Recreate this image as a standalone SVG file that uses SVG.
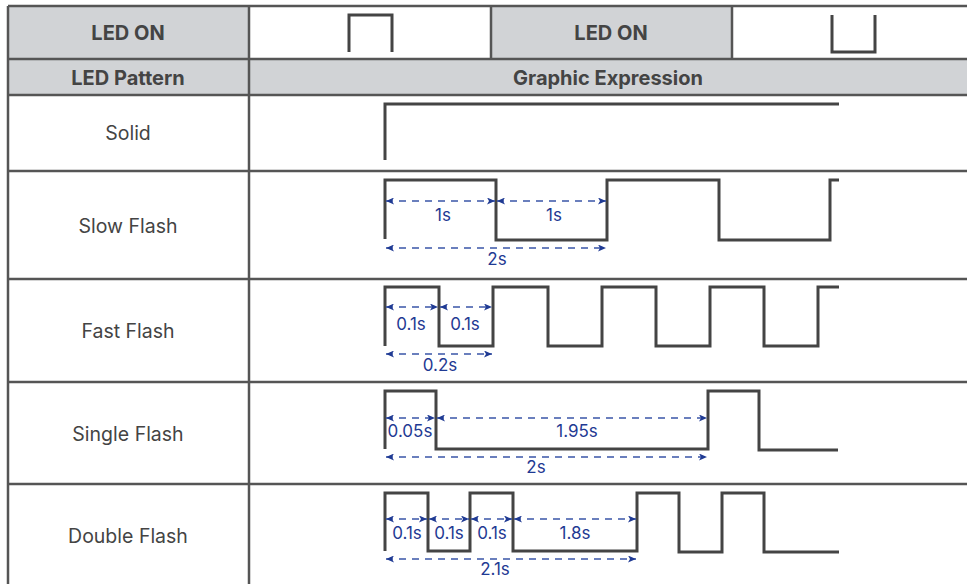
<svg xmlns="http://www.w3.org/2000/svg" width="967" height="584" viewBox="0 0 967 584">
<defs>
<marker id="ah" viewBox="0 0 8 7" refX="8" refY="3.5" markerWidth="8" markerHeight="7" markerUnits="userSpaceOnUse" orient="auto-start-reverse">
<path d="M0,0 L8,3.5 L0,7 L2,3.5 z" fill="#1f3a93"/>
</marker>
<style>
.hd{fill:#d1d3d6}
.grid{stroke:#555;stroke-width:2.5;fill:none}
.ht{font-family:Inter,"Noto Sans",sans-serif;font-weight:700;font-size:20px;fill:#444;text-anchor:middle}
.rt{font-family:Inter,"Noto Sans",sans-serif;font-size:19.5px;fill:#444;text-anchor:middle}
.wv{stroke:#444;stroke-width:3;fill:none;stroke-linejoin:miter}
.dim{stroke:#3a55a8;stroke-width:1.5;stroke-dasharray:7 6;fill:none;marker-start:url(#ah);marker-end:url(#ah)}
.lb{font-family:Inter,"Noto Sans",sans-serif;font-size:17px;fill:#1f3a93;text-anchor:middle}
</style>
</defs>
<rect width="967" height="584" fill="#fff"/>
<g id="table">
<rect class="hd" x="8" y="6" width="241" height="53"/>
<rect class="hd" x="491" y="6" width="241" height="53"/>
<rect class="hd" x="8" y="59" width="959" height="36"/>
<path class="grid" d="M8,6 H967 M8,59 H967 M8,95 H967 M8,171 H967 M8,279 H967 M8,382 H967 M8,484 H967 M8,6 V584 M249,6 V584 M491,6 V59 M732,6 V59"/>
</g>
<g id="header">
<text class="ht" x="128" y="40">LED ON</text>
<path class="wv" d="M349,52 V15 H392 V52"/>
<text class="ht" x="611" y="40">LED ON</text>
<path class="wv" d="M832,15 V52 H875 V15"/>
<text class="ht" x="128" y="85">LED Pattern</text>
<text class="ht" x="608" y="85">Graphic Expression</text>
</g>
<g id="solid">
<text class="rt" x="128" y="140">Solid</text>
<path class="wv" d="M385,160 V104 H839"/>
</g>
<g id="slow">
<text class="rt" x="128" y="233">Slow Flash</text>
<path class="wv" d="M385,239 V180 H496 V240 H607 V180 H719 V240 H830 V180 H839"/>
</g>
<g id="fast">
<text class="rt" x="128" y="338">Fast Flash</text>
<path class="wv" d="M385,346 V287 H439 V346 H493 V287 H548 V346 H602 V287 H656 V346 H710 V287 H764 V346 H818 V287 H839"/>
</g>
<g id="single">
<text class="rt" x="128" y="441">Single Flash</text>
<path class="wv" d="M385,449 V391 H436 V449 H708 V391 H759 V450 H838"/>
</g>
<g id="double">
<text class="rt" x="128" y="543">Double Flash</text>
<path class="wv" d="M385,551 V493 H428 V551 H470 V493 H513 V551 H637 V493 H679 V552 H722 V493 H764 V552 H839"/>
</g>
<g id="connectors">
<path class="dim" d="M386,201 H495"/>
<path class="dim" d="M497,201 H606"/>
<path class="dim" d="M386,248 H606"/>
<path class="dim" d="M386,307 H438"/>
<path class="dim" d="M440,307 H492"/>
<path class="dim" d="M386,354 H492"/>
<path class="dim" d="M386,418 H435"/>
<path class="dim" d="M437,418 H707"/>
<path class="dim" d="M386,457 H707"/>
<path class="dim" d="M386,519 H427"/>
<path class="dim" d="M429,519 H469"/>
<path class="dim" d="M471,519 H512"/>
<path class="dim" d="M514,519 H636"/>
<path class="dim" d="M386,559 H636"/>
</g>
<g id="labels">
<text class="lb" x="443" y="221">1s</text>
<text class="lb" x="554" y="221">1s</text>
<text class="lb" x="497" y="265">2s</text>
<text class="lb" x="411" y="330">0.1s</text>
<text class="lb" x="465" y="330">0.1s</text>
<text class="lb" x="440" y="371">0.2s</text>
<text class="lb" x="410" y="437">0.05s</text>
<text class="lb" x="577" y="437">1.95s</text>
<text class="lb" x="536" y="473">2s</text>
<text class="lb" x="407" y="539">0.1s</text>
<text class="lb" x="449" y="539">0.1s</text>
<text class="lb" x="492" y="539">0.1s</text>
<text class="lb" x="575" y="539">1.8s</text>
<text class="lb" x="495" y="575">2.1s</text>
</g>
</svg>
